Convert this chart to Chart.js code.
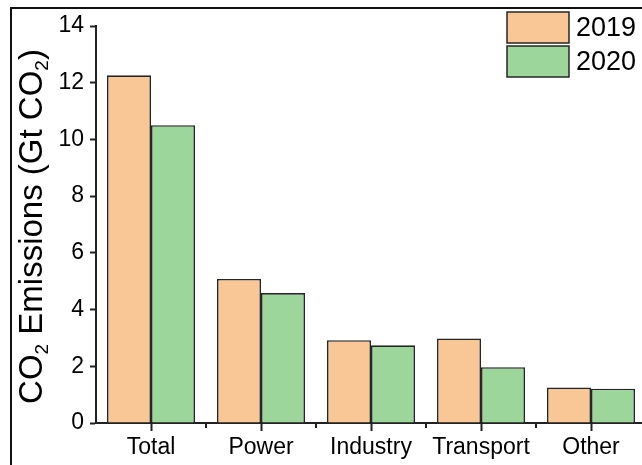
<!DOCTYPE html>
<html>
<head>
<meta charset="utf-8">
<script src="https://cdn.jsdelivr.net/npm/chart.js@4"></script>
<style>
  html, body { margin: 0; padding: 0; background: #fff; overflow: hidden; }
  #wrap { position: absolute; left: 0; top: 0; width: 660px; height: 465px; }
  #frame { position: absolute; left: 10px; top: 7px; width: 700px; height: 500px;
           border-top: 2px solid #111; border-left: 2px solid #111; pointer-events: none; }
</style>
</head>
<body>
<div id="wrap"><canvas id="c" width="660" height="465"></canvas></div>
<div id="frame"></div>
<script>
const categories = ["Total", "Power", "Industry", "Transport", "Other"];
const seriesNames = ["2019", "2020"];
const values2019 = [12.26, 5.08, 2.92, 2.98, 1.25];
const values2020 = [10.50, 4.58, 2.74, 1.97, 1.21];
const yTicks = [0, 2, 4, 6, 8, 10, 12, 14];

const FONT = "'Liberation Sans', Arial, sans-serif";
const orange = "#f9c795";
const green = "#9dd69b";
const edge = "#262626";

// y title with real subscripts, drawn rotated next to the axis
const yTitle = {
    id: "yTitle",
    afterDraw(chart) {
        const ctx = chart.ctx;
        const area = chart.chartArea;
        const parts = [
            { t: "CO", sub: false },
            { t: "2", sub: true },
            { t: " Emissions (Gt CO", sub: false },
            { t: "2", sub: true },
            { t: ")", sub: false }
        ];
        const big = "33px " + FONT, small = "19px " + FONT;
        ctx.save();
        let total = 0;
        parts.forEach(p => {
            ctx.font = p.sub ? small : big;
            p.w = ctx.measureText(p.t).width;
            total += p.w;
        });
        ctx.translate(42, (area.top + area.bottom) / 2 + 2);
        ctx.rotate(-Math.PI / 2);
        ctx.fillStyle = "#000";
        ctx.textBaseline = "alphabetic";
        let x = -total / 2;
        parts.forEach(p => {
            ctx.font = p.sub ? small : big;
            ctx.fillText(p.t, x, p.sub ? 6 : 0);
            x += p.w;
        });
        ctx.restore();
    }
};

// minor ticks between categories
const minorTicks = {
    id: "minorTicks",
    afterDraw(chart) {
        const sx = chart.scales.x;
        const ctx = chart.ctx;
        const half = (sx.getPixelForValue(1) - sx.getPixelForValue(0)) / 2;
        ctx.save();
        ctx.strokeStyle = "#222";
        ctx.lineWidth = 2;
        for (let i = 0; i < categories.length; i++) {
            const px = sx.getPixelForValue(i) + half;
            ctx.beginPath();
            ctx.moveTo(px, sx.top);
            ctx.lineTo(px, sx.top + 5);
            ctx.stroke();
        }
        ctx.restore();
    }
};

// legend boxes inside the top right corner
const boxLegend = {
    id: "boxLegend",
    afterDraw(chart) {
        const ctx = chart.ctx;
        ctx.save();
        chart.data.datasets.forEach((ds, i) => {
            const y = 12 + i * 34;
            ctx.fillStyle = ds.backgroundColor;
            ctx.fillRect(507, y, 62, 31);
            ctx.strokeStyle = edge;
            ctx.lineWidth = 1.5;
            ctx.strokeRect(507, y, 62, 31);
            ctx.fillStyle = "#000";
            ctx.font = "27px " + FONT;
            ctx.textBaseline = "middle";
            ctx.fillText(ds.label, 576, y + 16.5);
        });
        ctx.restore();
    }
};

new Chart(document.getElementById("c").getContext("2d"), {
    type: "bar",
    data: {
        labels: categories,
        datasets: [
            { label: seriesNames[0], data: values2019, backgroundColor: orange, borderColor: edge, borderWidth: 1.6 },
            { label: seriesNames[1], data: values2020, backgroundColor: green, borderColor: edge, borderWidth: 1.6 }
        ]
    },
    options: {
        responsive: false,
        animation: false,
        devicePixelRatio: 1,
        categoryPercentage: 0.8,
        barPercentage: 1,
        layout: { padding: { left: 0, right: 14, top: 26, bottom: 0 } },
        scales: {
            x: {
                afterFit: s => { s.height = 42; },
                grid: { offset: false, drawOnChartArea: false, tickLength: 8, tickColor: "#222", tickWidth: 2 },
                border: { color: "#222", width: 2 },
                ticks: { color: "#000", font: { family: FONT, size: 23 }, padding: 3 }
            },
            y: {
                min: 0,
                max: 14,
                afterFit: s => { s.width = 96; },
                afterBuildTicks: s => { s.ticks = yTicks.map(v => ({ value: v })); },
                grid: { drawOnChartArea: false, tickLength: 6, tickColor: "#222", tickWidth: 2 },
                border: { color: "#222", width: 2 },
                ticks: { color: "#000", font: { family: FONT, size: 23 }, padding: 6 }
            }
        },
        plugins: {
            legend: { display: false },
            tooltip: { enabled: false }
        }
    },
    plugins: [yTitle, minorTicks, boxLegend]
});
</script>
</body>
</html>
